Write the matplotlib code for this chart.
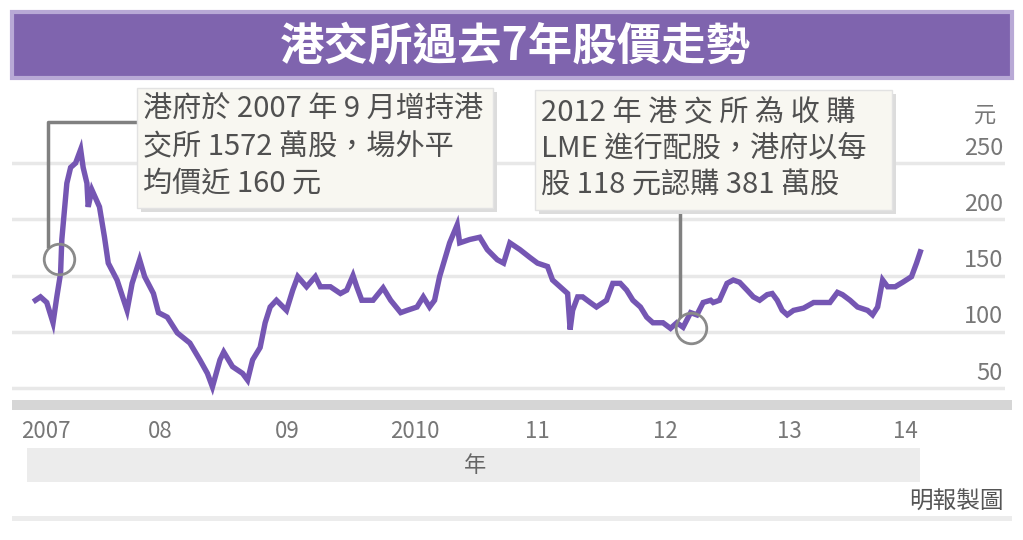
import matplotlib
matplotlib.use("Agg")
import matplotlib.pyplot as plt
from matplotlib.patches import Rectangle
from matplotlib.lines import Line2D
import matplotlib.transforms as mtransforms

plt.rcParams['font.family'] = ['Noto Sans CJK TC', 'DejaVu Sans']

# HKEx share price (decimal year, HK$)
t = [2007.47, 2007.51, 2007.56, 2007.61, 2007.64, 2007.67, 2007.68, 2007.72,
     2007.75, 2007.79, 2007.83, 2007.85, 2007.88, 2007.89, 2007.92, 2007.98,
     2008.02, 2008.05, 2008.12, 2008.20, 2008.24, 2008.30, 2008.34, 2008.41,
     2008.45, 2008.52, 2008.60, 2008.70, 2008.78, 2008.84, 2008.88, 2008.94,
     2008.97, 2009.04, 2009.12, 2009.16, 2009.20, 2009.26, 2009.30, 2009.34,
     2009.39, 2009.47, 2009.52, 2009.56, 2009.63, 2009.70, 2009.74, 2009.82,
     2009.90, 2009.95, 2010.00, 2010.03, 2010.07, 2010.16, 2010.24, 2010.30,
     2010.38, 2010.43, 2010.51, 2010.56, 2010.61, 2010.65, 2010.69, 2010.73,
     2010.77, 2010.83, 2010.85, 2010.93, 2011.01, 2011.07, 2011.15, 2011.20,
     2011.25, 2011.33, 2011.41, 2011.47, 2011.55, 2011.59, 2011.65, 2011.71,
     2011.73, 2011.75, 2011.79, 2011.83, 2011.89, 2011.94, 2012.02, 2012.07,
     2012.13, 2012.18, 2012.23, 2012.29, 2012.34, 2012.39, 2012.47, 2012.53,
     2012.58, 2012.63, 2012.69, 2012.74, 2012.79, 2012.85, 2012.87, 2012.92,
     2012.98, 2013.03, 2013.08, 2013.14, 2013.19, 2013.24, 2013.30, 2013.34,
     2013.38, 2013.42, 2013.46, 2013.51, 2013.59, 2013.67, 2013.72, 2013.80,
     2013.86, 2013.90, 2013.96, 2014.02, 2014.10, 2014.14, 2014.18, 2014.22,
     2014.26, 2014.32, 2014.38, 2014.45, 2014.49, 2014.52]
price = [128, 131, 126, 108, 131, 152, 182, 232,
         246, 250, 262, 246, 232, 211, 226, 211,
         184, 161, 146, 119, 143, 164, 149, 134,
         117, 113, 99, 90, 75, 63, 51, 75,
         82, 69, 63, 57, 75, 86, 108, 122,
         128, 119, 137, 149, 140, 149, 140, 140,
         134, 137, 150, 140, 128, 128, 139, 128,
         117, 119, 122, 131, 122, 128, 149, 164,
         179, 195, 179, 182, 184, 173, 164, 161,
         179, 173, 166, 161, 158, 146, 140, 134,
         102, 119, 131, 131, 126, 122, 128, 143,
         143, 137, 128, 122, 113, 108, 108, 103,
         108, 104, 117, 115, 126, 128, 126, 128,
         143, 146, 144, 137, 131, 128, 133, 134,
         128, 119, 115, 119, 121, 126, 126, 126,
         135, 133, 128, 122, 119, 115, 122, 146,
         140, 140, 144, 149, 161, 171]

y_ticks = [50, 100, 150, 200, 250]
year_bounds = [2008, 2009, 2010, 2011, 2012, 2013, 2014]
year_labels = ["2007", "08", "09", "2010", "11", "12", "13", "14"]
year_label_pos = [2007.55, 2008.46, 2009.48, 2010.49, 2011.47, 2012.49, 2013.48, 2014.40]

# highlighted events
event_t = [2007.66, 2012.69]
event_v = [165, 103]

title = "港交所過去7年股價走勢"
note1 = ["港府於 2007 年 9 月增持港", "交所 1572 萬股，場外平", "均價近 160 元"]
note2 = ["2012 年 港 交 所 為 收 購", "LME 進行配股，港府以每", "股 118 元認購 381 萬股"]

W, H = 1023, 540
fig = plt.figure(figsize=(W / 100, H / 100), dpi=100)
fig.patch.set_facecolor("white")


def rect(x0, y0, x1, y1, **kw):
    r = Rectangle((x0 / W, 1 - y1 / H), (x1 - x0) / W, (y1 - y0) / H,
                  transform=fig.transFigure, **kw)
    fig.add_artist(r)
    return r


def fline(xs, ys, **kw):
    fig.add_artist(Line2D([x / W for x in xs], [1 - y / H for y in ys],
                          transform=fig.transFigure, **kw))


def ftext(x, y, s, **kw):
    fig.text(x / W, 1 - y / H, s, **kw)


# title bar
rect(12, 12, 1012, 78, facecolor="#7f64ae", edgecolor="#b8a9d6", lw=3, zorder=1)
ftext(515, 46, title, color="white", fontsize=32, fontweight="bold",
      ha="center", va="center", zorder=2)

# plot area
ax = fig.add_axes([12 / W, 1 - 405 / H, (1005 - 12) / W, (405 - 100) / H])
ax.set_xlim(2007.283, 2015.195)
ax.set_ylim(34.9, 306)
ax.axis("off")

yt = mtransforms.blended_transform_factory(fig.transFigure, ax.transData)
for v in y_ticks:
    ax.axhline(v, color="#e8e8e8", lw=2.5, zorder=0)
    ax.text(1003 / W, v + 3, str(v), transform=yt,
            ha="right", va="bottom", fontsize=17, color="#777777")
ftext(985, 115, "元", fontsize=16, color="#777777", ha="center", va="center")

ax.plot(t, price, color="#7556b3", lw=3.9, solid_joinstyle="miter", zorder=3)

# x axis band
rect(12, 400, 1012, 410, facecolor="#d6d6d6", edgecolor="none")
ax.plot(year_bounds, [ax.get_ylim()[0]] * len(year_bounds), ls="none", marker="|",
        ms=6, mew=1.5, color="#a0a0a0", clip_on=False, zorder=4)
xt = mtransforms.blended_transform_factory(ax.transData, fig.transFigure)
for pos, lab in zip(year_label_pos, year_labels):
    ax.text(pos, 1 - 432 / H, lab, transform=xt, ha="center", va="center",
            fontsize=16, color="#777777")

rect(27, 448, 920, 482, facecolor="#ececec", edgecolor="none")
ftext(475, 465, "年", fontsize=16, color="#666666", ha="center", va="center")
ftext(1004, 502, "明報製圖", fontsize=17, color="#555555", ha="right", va="center")
rect(12, 516, 1012, 521, facecolor="#ececec", edgecolor="none")

# annotation boxes
for (x0, y0, x1, y1), lines in [((137, 88, 493, 208), note1), ((535, 90, 892, 210), note2)]:
    rect(x0 + 4, y0 + 4, x1 + 4, y1 + 4, facecolor="#dcdcdc", edgecolor="none", zorder=5)
    rect(x0, y0, x1, y1, facecolor="#f8f7f1", edgecolor="#e2e2e2", lw=1, zorder=6)
    for i, s in enumerate(lines):
        ftext(x0 + 6, y0 + 22 + i * 37, s, fontsize=21, color="#505050",
              ha="left", va="center", zorder=7)

fline([137, 48, 48], [122, 122, 246], color="#808080", lw=2.5, zorder=4)
fline([680, 680], [210, 316], color="#808080", lw=2.5, zorder=4)
ax.plot(event_t, event_v, ls="none", marker="o", ms=22, mfc="none",
        mec="#8a8a8a", mew=2, zorder=4, clip_on=False)

fig.savefig("out.png", dpi=100)
